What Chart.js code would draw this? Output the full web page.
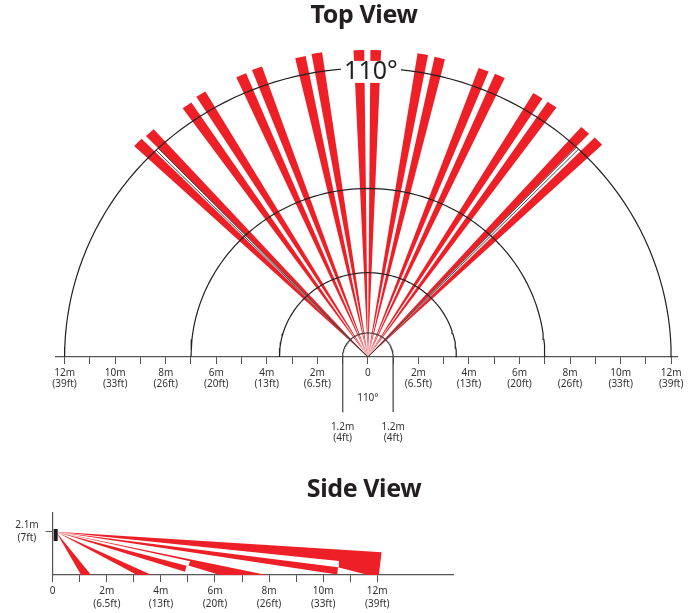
<!DOCTYPE html>
<html>
<head>
<meta charset="utf-8">
<title>Top View / Side View</title>
<script src="https://cdn.jsdelivr.net/npm/chart.js@4"></script>
<style>
  html, body { margin: 0; padding: 0; background: #fff; overflow: hidden; }
  #page { position: relative; width: 694px; height: 613px; }
  canvas { position: absolute; left: 0; }
  #topChart { top: 0; }
  #sideChart { top: 460px; }
  h2 {
    position: absolute; left: 0; width: 728px; margin: 0; text-align: center;
    font: bold 25px/30px "Noto Sans", sans-serif; color: #231f20; letter-spacing: -0.4px;
  }
</style>
</head>
<body>
<div id="page">
  <canvas id="topChart" width="694" height="460"></canvas>
  <canvas id="sideChart" width="694" height="153"></canvas>
  <h2 style="top:-2px">Top View</h2>
  <h2 style="top:472px">Side View</h2>
</div>
<script>
const RED = '#ee2027';
const INK = '#231f20';
const AXIS = '#555555';
const TEXT = '#333333';
const FONT = '"Noto Sans", sans-serif';

// shared tick labels, metres and feet
const tickMetres = [2, 4, 6, 8, 10, 12];
const tickFeet = ['6.5ft', '13ft', '20ft', '26ft', '33ft', '39ft'];

// top view: beam direction (degrees from straight ahead) and reach (m)
const topBeamAngles = [-45.6, -42.8, -34.4, -31.2, -23.2, -20.1, -12.1, -9.1, -1.6, 1.4, 9.8, 12.9, 21, 24.1, 31.8, 34.8, 42.4, 45.5];
const topBeamRanges = [12.74, 12.7, 12.67, 12.76, 12.73, 12.77, 12.74, 12.78, 12.75, 12.75, 12.77, 12.74, 12.78, 12.79, 12.77, 12.77, 12.75, 12.79];
const topBeamHalfWidth = 0.95;   // degrees
const topArcRadii = [12, 7, 3.5];
const topArchRadius = 1;
const topArchDrop = 2.28;
// narrow outlined gaps between the outermost beams
const topGapAngles = [-44.3, -43.75, 43.45, 44.0];
const topGapRange = 12;

// side view: one outline per beam, metres along the floor and metres high
const sensorX = [0.11, 0.11];
const sensorY = [2.22, 1.65];
const apexX = 0.12;
const apexY = 2.09;
const sideBeamX = [
  [12.16, 12.06, 11.66, 10.58, 10.58],
  [10.55, 10.52],
  [4.95, 4.89],
  [7.91, 6.18, 5.02, 5.08],
  [3.66, 3.12],
  [1.42, 1.05]
];
const sideBeamY = [
  [1.10, 0, 0, 0.36, 0.68],
  [0.37, 0.03],
  [0.45, 0.16],
  [0, 0, 0.46, 0.66],
  [0, 0],
  [0, 0]
];

function metresLabel(v) {
  const i = tickMetres.indexOf(Math.abs(v));
  if (v === 0) return '0';
  return i < 0 ? '' : [Math.abs(v) + 'm', '(' + tickFeet[i] + ')'];
}

function toPoint(angle, range) {
  const a = angle * Math.PI / 180;
  return { x: range * Math.sin(a), y: range * Math.cos(a) };
}

function beamDataset(points) {
  return { data: points, showLine: true, fill: 'shape', backgroundColor: RED, borderWidth: 0, pointRadius: 0, clip: false };
}

function lineDataset(points, color, width) {
  return { data: points, showLine: true, fill: false, borderColor: color, borderWidth: width, pointRadius: 0, clip: false };
}

function arcPoints(r) {
  const pts = [];
  for (let d = 0; d <= 180; d += 2) {
    pts.push({ x: r * Math.cos(d * Math.PI / 180), y: r * Math.sin(d * Math.PI / 180) });
  }
  return pts;
}

// texts placed by data value, drawn on top of the marks
function notesPlugin(notes) {
  return {
    id: 'notes',
    afterDatasetsDraw(chart) {
      const { ctx, scales: { x, y } } = chart;
      ctx.save();
      ctx.textAlign = 'center';
      ctx.textBaseline = 'middle';
      notes.forEach(n => {
        const px = x.getPixelForValue(n.x);
        const py = y.getPixelForValue(n.y);
        if (n.clearW) {
          ctx.fillStyle = '#fff';
          ctx.fillRect(px - n.clearW / 2, py - n.clearH / 2, n.clearW, n.clearH);
        }
        ctx.font = (n.size || 10) + 'px ' + FONT;
        ctx.fillStyle = n.color || TEXT;
        ctx.fillText(n.text, px, py);
      });
      ctx.restore();
    }
  };
}

// ---- top view ----
const topDatasets = [];
topArcRadii.forEach(r => topDatasets.push(lineDataset(arcPoints(r), INK, 1.2)));
topDatasets.push(lineDataset(
  [{ x: -topArchRadius, y: -topArchDrop }].concat(arcPoints(topArchRadius).reverse(), [{ x: topArchRadius, y: -topArchDrop }]),
  '#444444', 1.2));
topGapAngles.forEach(a => topDatasets.push(lineDataset([{ x: 0, y: 0 }, toPoint(a, topGapRange)], '#333333', 0.9)));
topBeamAngles.forEach((a, i) => {
  topDatasets.push(beamDataset([
    { x: 0, y: 0 },
    toPoint(a - topBeamHalfWidth, topBeamRanges[i]),
    toPoint(a + topBeamHalfWidth, topBeamRanges[i])
  ]));
});

new Chart(document.getElementById('topChart'), {
  type: 'scatter',
  data: { datasets: topDatasets },
  plugins: [notesPlugin([
    { text: '110°', x: 0.12, y: 11.84, size: 25, color: INK, clearW: 60, clearH: 22 },
    { text: '110°', x: 0.0, y: -1.7 },
    { text: '1.2m', x: -1.0, y: -2.9 },
    { text: '(4ft)', x: -1.0, y: -3.36 },
    { text: '1.2m', x: 1.0, y: -2.9 },
    { text: '(4ft)', x: 1.0, y: -3.36 }
  ])],
  options: {
    responsive: false,
    animation: false,
    layout: { padding: { left: 56, right: 17, top: 30, bottom: 0 } },
    plugins: { legend: { display: false }, tooltip: { enabled: false } },
    scales: {
      x: {
        type: 'linear',
        min: -12.34,
        max: 12.23,
        afterFit(scale) { scale.height = 103; },
        border: { color: AXIS, width: 1.2 },
        grid: { drawOnChartArea: false, drawTicks: true, tickLength: 7, tickColor: AXIS },
        ticks: {
          stepSize: 1, includeBounds: false, autoSkip: false, maxRotation: 0, padding: 3,
          color: TEXT, font: { family: FONT, size: 10, lineHeight: 1.17 },
          callback: metresLabel
        }
      },
      y: { type: 'linear', display: false, min: 0, max: 13.58 }
    }
  }
});

// ---- side view ----
const sideDatasets = [lineDataset(sensorX.map((x, i) => ({ x, y: sensorY[i] })), '#1a1a1a', 4)];
sideBeamX.forEach((xs, b) => {
  sideDatasets.push(beamDataset([{ x: apexX, y: apexY }].concat(xs.map((x, i) => ({ x, y: sideBeamY[b][i] })))));
});

new Chart(document.getElementById('sideChart'), {
  type: 'scatter',
  data: { datasets: sideDatasets },
  options: {
    responsive: false,
    animation: false,
    layout: { padding: { left: 0, right: 241, top: 53, bottom: 0 } },
    plugins: { legend: { display: false }, tooltip: { enabled: false } },
    scales: {
      x: {
        type: 'linear',
        min: 0,
        max: 14.8,
        afterFit(scale) { scale.height = 38; },
        border: { color: AXIS, width: 1.2 },
        grid: { drawOnChartArea: false, drawTicks: true, tickLength: 7, tickColor: AXIS },
        ticks: {
          stepSize: 1, includeBounds: false, autoSkip: false, maxRotation: 0, padding: 3,
          color: TEXT, font: { family: FONT, size: 10, lineHeight: 1.27 },
          callback: v => (v > 12 ? null : metresLabel(v))
        }
      },
      y: {
        type: 'linear',
        min: 0,
        max: 3,
        afterFit(scale) { scale.width = 52.7; },
        afterBuildTicks(scale) { scale.ticks = [{ value: 2.1 }]; },
        border: { color: AXIS, width: 1.2 },
        grid: { drawOnChartArea: false, drawTicks: true, tickLength: 7, tickColor: AXIS },
        ticks: {
          padding: 7, crossAlign: 'center',
          color: TEXT, font: { family: FONT, size: 10, lineHeight: 1.27 },
          callback: () => ['2.1m', '(7ft)']
        }
      }
    }
  }
});
</script>
</body>
</html>
